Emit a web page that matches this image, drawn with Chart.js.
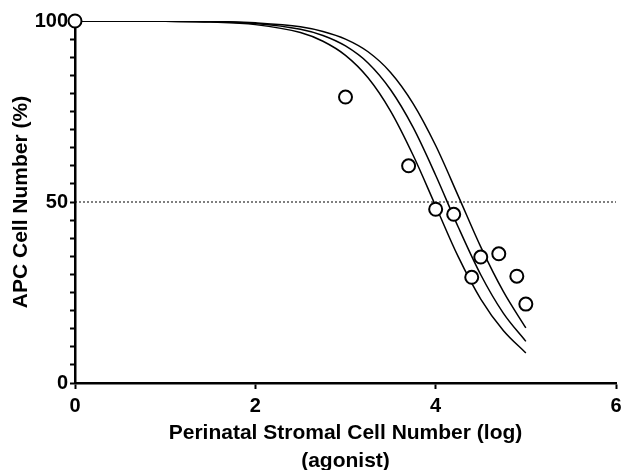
<!DOCTYPE html>
<html lang="en">
<head>
    <meta charset="UTF-8">
    <title>APC Cell Number vs Perinatal Stromal Cell Number</title>
    <style>
        html, body {
            margin: 0;
            padding: 0;
            background: #fff;
            overflow: hidden;
        }
    </style>
</head>
<body>
    <canvas id="myChart" width="640" height="470"></canvas>

    <script src="https://cdn.jsdelivr.net/npm/chart.js"></script>
    <script>
        // measured points (log cell number, % APC)
        const pointX = [0, 3.0, 3.7, 4.0, 4.2, 4.4, 4.5, 4.7, 4.9, 5.0];
        const pointY = [100, 79, 60, 48, 46.6, 29.2, 34.8, 35.7, 29.5, 21.8];

        // fitted curve + bands
        const curveX = [0, 0.5, 1, 1.5, 2, 2.5, 2.75, 3, 3.25, 3.5, 3.75, 4, 4.25, 4.5, 4.75, 5];
        const lowerY = [100, 100, 99.9, 99.7, 99.0, 96.8, 94.4, 90.5, 84.3, 75.1, 62.9, 48.9, 34.9, 23.2, 14.5, 8.3];
        const fitY   = [100, 100, 99.9, 99.8, 99.3, 97.7, 96.0, 93.1, 88.4, 81.0, 70.6, 57.4, 43.1, 29.9, 19.3, 11.5];
        const upperY = [100, 100, 100, 99.9, 99.5, 98.4, 97.1, 95.0, 91.5, 85.8, 77.2, 65.6, 51.7, 37.6, 25.3, 15.2];

        const halfX = [0, 6];
        const halfY = [50, 50];

        const xTicks = [0, 2, 4, 6];
        const yTicks = [0, 50, 100];

        function pairs(xs, ys) {
            return xs.map((x, i) => ({ x: x, y: ys[i] }));
        }

        Chart.defaults.font.family = 'Arial, "Liberation Sans", sans-serif';
        Chart.defaults.font.weight = 'bold';
        Chart.defaults.color = '#000';

        const curveStyle = {
            showLine: true,
            borderColor: '#000',
            borderWidth: 1.5,
            pointRadius: 0,
            cubicInterpolationMode: 'monotone',
            fill: false
        };

        const ctx = document.getElementById('myChart').getContext('2d');

        new Chart(ctx, {
            type: 'scatter',
            data: {
                datasets: [
                    {
                        data: pairs(pointX, pointY),
                        pointRadius: 6.5,
                        pointBorderWidth: 2,
                        pointBorderColor: '#000',
                        pointBackgroundColor: '#fff',
                        clip: false
                    },
                    Object.assign({ data: pairs(curveX, lowerY) }, curveStyle),
                    Object.assign({ data: pairs(curveX, fitY) }, curveStyle),
                    Object.assign({ data: pairs(curveX, upperY) }, curveStyle),
                    {
                        data: pairs(halfX, halfY),
                        showLine: true,
                        borderColor: '#000',
                        borderWidth: 1,
                        borderDash: [2, 2],
                        pointRadius: 0
                    }
                ]
            },
            options: {
                responsive: false,
                animation: false,
                layout: {
                    padding: { top: 21, right: 24, bottom: 0, left: 0 }
                },
                plugins: {
                    legend: { display: false },
                    tooltip: { enabled: false }
                },
                scales: {
                    x: {
                        type: 'linear',
                        min: 0,
                        max: 6,
                        afterFit: (s) => { s.height = 87; },
                        afterBuildTicks: (s) => { s.ticks = xTicks.map(v => ({ value: v })); },
                        ticks: {
                            font: { size: 20 },
                            padding: 5,
                            maxRotation: 0
                        },
                        grid: {
                            drawOnChartArea: false,
                            tickLength: 6,
                            tickWidth: 2,
                            tickColor: '#000'
                        },
                        border: { color: '#000', width: 2.5 },
                        title: {
                            display: true,
                            text: ['Perinatal Stromal Cell Number (log)', '(agonist)'],
                            font: { size: 21, lineHeight: '28px' },
                            padding: { top: 0, bottom: -5 }
                        }
                    },
                    y: {
                        type: 'linear',
                        min: 0,
                        max: 100,
                        afterFit: (s) => { s.width = 75; },
                        ticks: {
                            stepSize: 5,
                            autoSkip: false,
                            font: { size: 20 },
                            padding: 2,
                            callback: (v) => yTicks.includes(v) ? v : ''
                        },
                        grid: {
                            drawOnChartArea: false,
                            tickLength: 5,
                            tickWidth: 2,
                            tickColor: '#000'
                        },
                        border: { color: '#000', width: 2.5 },
                        title: {
                            display: true,
                            text: 'APC Cell Number (%)',
                            font: { size: 21 },
                            padding: { top: 9, bottom: 0 }
                        }
                    }
                }
            }
        });
    </script>
</body>
</html>
